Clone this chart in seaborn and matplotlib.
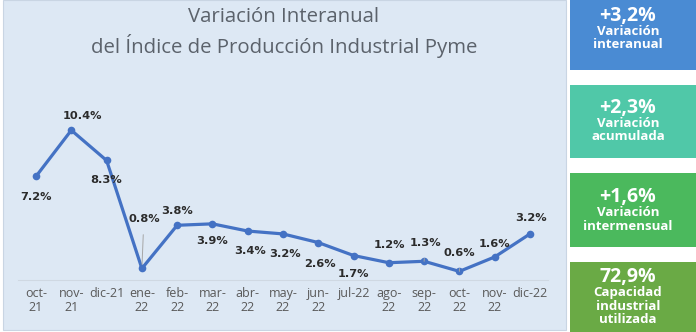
import numpy as np
import pandas as pd
import matplotlib
matplotlib.use("Agg")
import matplotlib.pyplot as plt
from matplotlib.patches import Rectangle
import seaborn as sns

# Monthly year-on-year variation of the SME industrial production index
months = ["oct-21", "nov-21", "dic-21", "ene-22", "feb-22", "mar-22", "abr-22",
          "may-22", "jun-22", "jul-22", "ago-22", "sep-22", "oct-22", "nov-22", "dic-22"]
tick_labels = ["oct-\n21", "nov-\n21", "dic-21", "ene-\n22", "feb-\n22", "mar-\n22", "abr-\n22",
               "may-\n22", "jun-\n22", "jul-22", "ago-\n22", "sep-\n22", "oct-\n22", "nov-\n22", "dic-22"]
values = [7.2, 10.4, 8.3, 0.8, 3.8, 3.9, 3.4, 3.2, 2.6, 1.7, 1.2, 1.3, 0.6, 1.6, 3.2]

# Label offsets (pixels) relative to each point
label_dx = [0, 11, 0, 2, 0, 0, 2, 2, 2, 0, 1, 1, 0, 0, 1]
label_dy = [-21, 14, -20, 49, 14, -17, -20, -20, -21, -18, 18, 18, 18, 13, 16]
leader = [False, False, False, True, False, False, False, False, False, False, False, True, True, False, False]

# Summary cards on the right
card_values = ["+3,2%", "+2,3%", "+1,6%", "72,9%"]
card_texts = ["Variación\ninteranual", "Variación\nacumulada", "Variación\nintermensual",
              "Capacidad\nindustrial\nutilizada"]
card_colors = ["#4a8bd3", "#50c8a8", "#4bb95d", "#6aaa45"]

W, H = 696, 332
sns.set_theme(style="white")
plt.rcParams["font.family"] = ["DejaVu Sans"]

fig = plt.figure(figsize=(W / 100, H / 100), dpi=100)
fig.patch.set_facecolor("white")


def px(x, y):
    """Convert pixel coords (top-left origin) to figure fraction."""
    return x / W, 1 - y / H


# Light blue chart panel
x0, y0 = px(3, 330)
fig.add_artist(Rectangle((x0, y0), (566 - 3) / W, 330 / H, transform=fig.transFigure,
                         facecolor="#dde8f4", edgecolor="#c9d5e3", lw=0.8, zorder=0))

# Plot area
ax = fig.add_axes([18.4 / W, (H - 280) / H, 529.2 / W, 172.8 / H])
ax.set_facecolor("none")
df = pd.DataFrame({"pos": np.arange(len(months)), "mes": months, "valor": values})
sns.lineplot(data=df, x="pos", y="valor", ax=ax, color="#4472c4", linewidth=2.3,
             marker="o", markersize=5.5, markeredgewidth=0, zorder=3)

ax.set_xlim(-0.5, len(months) - 0.5)
ax.set_ylim(0, 12)
ax.set_xticks(df["pos"])
ax.set_xticklabels(tick_labels, fontsize=9, color="#595959", family="Open Sans",
                   linespacing=1.15, va="top")
ax.tick_params(axis="x", length=0, pad=5)
ax.set_yticks([])
ax.set_xlabel("")
ax.set_ylabel("")
for s in ["top", "right", "left"]:
    ax.spines[s].set_visible(False)
ax.spines["bottom"].set_color("#cfd8e2")
ax.spines["bottom"].set_linewidth(0.8)

for i, v in enumerate(values):
    kw = {}
    if leader[i]:
        kw["arrowprops"] = dict(arrowstyle="-", color="#a6a6a6", lw=0.7,
                                shrinkA=5, shrinkB=3)
    ax.annotate(f"{v:.1f}%", xy=(i, v), xytext=(label_dx[i], label_dy[i]),
                textcoords="offset pixels", ha="center", va="center",
                fontsize=8.2, fontweight="bold", color="#2b2b2b", zorder=4, **kw)

# Title
tx, ty = px(284, 17)
fig.text(tx, ty, "Variación Interanual", ha="center", va="center",
         fontsize=14.7, color="#5b626b", family="Open Sans")
tx, ty = px(284, 46)
fig.text(tx, ty, "del Índice de Producción Industrial Pyme", ha="center", va="center",
         fontsize=14.7, color="#5b626b", family="Open Sans")

# Summary cards
card_boxes = [(0, 70), (85, 158), (173, 247), (262, 332)]
head_y = [16, 108, 197, 277]
for (top, bot), hy, val, txt, col in zip(card_boxes, head_y, card_values, card_texts, card_colors):
    bx, by = px(570, bot)
    fig.add_artist(Rectangle((bx, by), (W - 570) / W, (bot - top) / H,
                             transform=fig.transFigure, facecolor=col,
                             edgecolor="none", zorder=1))
    cx, cy = px(628, hy)
    fig.text(cx, cy, val, ha="center", va="center", fontsize=14, fontweight="bold",
             color="white", family="Open Sans", zorder=2)
    cx, cy = px(628, hy + 9)
    fig.text(cx, cy, txt, ha="center", va="top", fontsize=9.5, fontweight="bold",
             color="white", family="Open Sans", linespacing=1.05, zorder=2)

fig.savefig("out.png", dpi=100, facecolor="white")
